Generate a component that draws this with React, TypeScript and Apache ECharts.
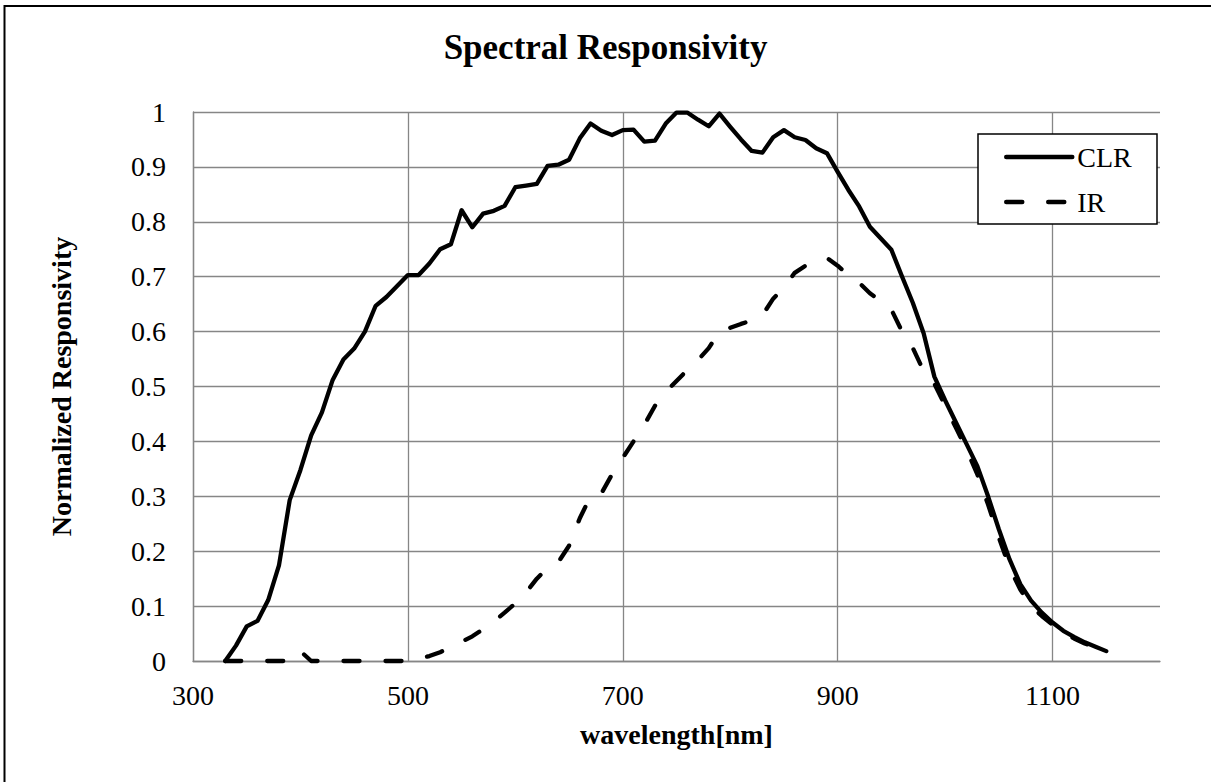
import React, { useEffect, useRef } from "react";
import * as echarts from "echarts";

const clrWavelengths = [
  330, 340, 350, 360, 370, 380, 390, 400, 410, 420, 430, 440, 450, 460, 470, 480, 490, 500,
  510, 520, 530, 540, 550, 560, 570, 580, 590, 600, 610, 620, 630, 640, 650, 660, 670, 680,
  690, 700, 710, 720, 730, 740, 750, 760, 770, 780, 790, 800, 810, 820, 830, 840, 850, 860,
  870, 880, 890, 900, 910, 920, 930, 940, 950, 960, 970, 980, 990, 1000, 1010, 1020, 1030,
  1040, 1050, 1060, 1070, 1080, 1090, 1100, 1110, 1120, 1130, 1140, 1150,
];
const clrValues = [
  0, 0.028, 0.063, 0.073, 0.111, 0.174, 0.293, 0.348, 0.411, 0.453, 0.512, 0.549, 0.569, 0.6,
  0.647, 0.663, 0.683, 0.703, 0.703, 0.724, 0.75, 0.759, 0.821, 0.79, 0.815, 0.82, 0.829, 0.863,
  0.866, 0.869, 0.902, 0.904, 0.913, 0.952, 0.979, 0.966, 0.958, 0.967, 0.968, 0.946, 0.948,
  0.979, 0.999, 0.999, 0.986, 0.974, 0.997, 0.973, 0.95, 0.929, 0.926, 0.954, 0.967, 0.954,
  0.949, 0.934, 0.925, 0.891, 0.858, 0.828, 0.791, 0.77, 0.749, 0.7, 0.652, 0.597, 0.518,
  0.475, 0.435, 0.395, 0.355, 0.3, 0.24, 0.185, 0.14, 0.11, 0.088, 0.07, 0.055, 0.044, 0.034,
  0.026, 0.018,
];

const irWavelengths = [
  330, 340, 350, 360, 370, 380, 390, 400, 410, 420, 430, 440, 450, 460, 470, 480, 490, 500,
  510, 520, 530, 540, 550, 560, 570, 580, 590, 600, 610, 620, 630, 640, 650, 660, 670, 680,
  690, 700, 710, 720, 730, 740, 750, 760, 770, 780, 790, 800, 810, 820, 830, 840, 850, 860,
  870, 880, 890, 900, 910, 920, 930, 940, 950, 960, 970, 980, 990, 1000, 1010, 1020, 1030,
  1040, 1050, 1060, 1070, 1080, 1090, 1100, 1110, 1120, 1130, 1140, 1150,
];
const irValues = [
  0, 0, 0, 0, 0, 0, 0, 0.018, 0, 0, 0, 0, 0, 0, 0, 0, 0, 0, 0.004, 0.009, 0.016, 0.025, 0.035,
  0.045, 0.058, 0.072, 0.088, 0.105, 0.125, 0.15, 0.17, 0.18, 0.21, 0.26, 0.3, 0.305, 0.34, 0.37,
  0.4, 0.43, 0.465, 0.49, 0.51, 0.53, 0.548, 0.57, 0.6, 0.607, 0.614, 0.62, 0.63, 0.66, 0.68,
  0.707, 0.72, 0.728, 0.734, 0.72, 0.703, 0.689, 0.67, 0.656, 0.64, 0.6, 0.57, 0.528, 0.505,
  0.465, 0.425, 0.385, 0.34, 0.285, 0.225, 0.17, 0.13, 0.1, 0.082, 0.066, 0.052, 0.041, 0.032,
  0.024, 0.017,
];

const seriesNames = ["CLR", "IR"];
const FONT = "'Liberation Serif', 'Times New Roman', Times, serif";
const GRID_GREY = "#868686";

export default function App() {
  const ref = useRef<HTMLDivElement>(null);

  useEffect(() => {
    document.body.style.margin = "0";
    const chart = echarts.init(ref.current as HTMLDivElement, null, { renderer: "svg" });
    const clrData = clrWavelengths.map((w, i) => [w, clrValues[i]]);
    const irData = irWavelengths.map((w, i) => [w, irValues[i]]);

    chart.setOption({
      animation: false,
      backgroundColor: "#ffffff",
      title: {
        text: "Spectral Responsivity",
        left: "center",
        top: 30,
        padding: 0,
        textStyle: { fontFamily: FONT, fontSize: 35, fontWeight: "bold", color: "#000" },
      },
      grid: { left: 193, right: 51, top: 112, bottom: 121 },
      legend: {
        orient: "vertical",
        left: 1004,
        top: 143,
        padding: 0,
        itemWidth: 66,
        itemHeight: 14,
        itemGap: 17,
        data: seriesNames,
        itemStyle: { opacity: 0 },
        lineStyle: { width: 4.5, color: "#000", cap: "round" },
        textStyle: { fontFamily: FONT, fontSize: 28, color: "#000", lineHeight: 28 },
      },
      graphic: [
        {
          type: "rect",
          z: 3,
          shape: { x: 978, y: 134, width: 179, height: 90 },
          style: { fill: "#ffffff", stroke: "#000", lineWidth: 1.5 },
        },
        {
          type: "rect",
          z: 10,
          silent: true,
          shape: { x: 4.5, y: 6, width: 1400, height: 1000 },
          style: { fill: "none", stroke: "#000", lineWidth: 2 },
        },
      ],
      xAxis: {
        type: "value",
        min: 300,
        max: 1200,
        interval: 200,
        name: "wavelength[nm]",
        nameLocation: "middle",
        nameGap: 59,
        nameTextStyle: { fontFamily: FONT, fontSize: 28, fontWeight: "bold", color: "#000" },
        axisLine: { show: true, lineStyle: { color: GRID_GREY, width: 1.3 } },
        axisTick: { show: false },
        axisLabel: {
          showMaxLabel: false,
          margin: 20,
          fontFamily: FONT,
          fontSize: 28,
          color: "#000",
          formatter: (v: number) => String(v),
        },
        splitLine: { show: true, showMaxLine: false, lineStyle: { color: GRID_GREY, width: 1.3 } },
      },
      yAxis: {
        type: "value",
        min: 0,
        max: 1,
        interval: 0.1,
        name: "Normalized Responsivity",
        nameLocation: "middle",
        nameGap: 118,
        nameRotate: 90,
        nameTextStyle: { fontFamily: FONT, fontSize: 28, fontWeight: "bold", color: "#000" },
        axisLine: { show: true, lineStyle: { color: GRID_GREY, width: 1.3 } },
        axisTick: { show: false },
        axisLabel: {
          margin: 27,
          fontFamily: FONT,
          fontSize: 28,
          color: "#000",
          formatter: (v: number) => String(Math.round(v * 10) / 10),
        },
        splitLine: { show: true, lineStyle: { color: GRID_GREY, width: 1.3 } },
      },
      series: [
        {
          name: seriesNames[0],
          type: "line",
          data: clrData,
          symbol: "none",
          showSymbol: false,
          clip: false,
          lineStyle: { color: "#000", width: 4.3, join: "round", cap: "round" },
          itemStyle: { color: "#000" },
        },
        {
          name: seriesNames[1],
          type: "line",
          data: irData,
          symbol: "none",
          showSymbol: false,
          clip: false,
          lineStyle: { color: "#000", width: 4.3, type: [16, 26], join: "round", cap: "round" },
          itemStyle: { color: "#000" },
        },
      ],
    });

    return () => chart.dispose();
  }, []);

  return <div ref={ref} style={{ width: 1211, height: 782, background: "#fff" }} />;
}
